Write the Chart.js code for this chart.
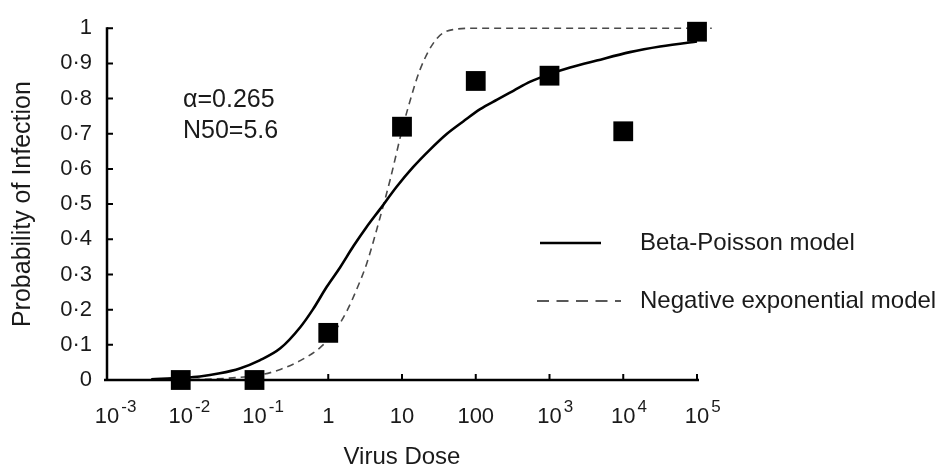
<!DOCTYPE html>
<html>
<head>
<meta charset="utf-8">
<script src="https://cdn.jsdelivr.net/npm/chart.js@4"></script>
<style>
  html, body { margin: 0; padding: 0; background: #ffffff; }
  canvas { display: block; }
</style>
</head>
<body>
<canvas id="c" width="952" height="470"></canvas>
<script>
// ---- data ----
const obsDose = [0.01, 0.1, 1, 10, 100, 1000, 10000, 100000];
const obsProb = [0, 0, 0.134, 0.72, 0.85, 0.865, 0.707, 0.99];

// Beta-Poisson curve (log10 dose, probability)
const bpLogDose = [-2.4, -2.0, -1.74, -1.47, -1.2, -0.93, -0.65, -0.38, -0.21, -0.02, 0.16, 0.34, 0.52, 0.7, 0.93, 1.15, 1.38, 1.61, 1.83, 2.06, 2.29, 2.51, 2.74, 3.01, 3.28, 3.64, 4.09, 4.5, 5.0, 5.2];
const bpProb    = [0.002, 0.006, 0.01, 0.019, 0.033, 0.056, 0.09, 0.15, 0.2, 0.265, 0.32, 0.38, 0.435, 0.485, 0.55, 0.605, 0.655, 0.7, 0.735, 0.77, 0.797, 0.822, 0.848, 0.87, 0.888, 0.908, 0.932, 0.948, 0.962, 0.967];

// Negative exponential curve (log10 dose, probability)
const neLogDose = [-2.0, -1.3, -0.93, -0.65, -0.38, -0.11, 0.06, 0.25, 0.4, 0.52, 0.7, 0.84, 1.0, 1.07, 1.25, 1.47, 1.69, 2.0, 5.2];
const neProb    = [0, 0.006, 0.014, 0.03, 0.055, 0.092, 0.13, 0.195, 0.265, 0.33, 0.46, 0.57, 0.71, 0.765, 0.885, 0.97, 0.996, 1.0, 1.0];

const xTickValues = [0.001, 0.01, 0.1, 1, 10, 100, 1000, 10000, 100000];
const xTickBase = ['10', '10', '10', '1', '10', '100', '10', '10', '10'];
const xTickSup  = ['-3', '-2', '-1', '', '', '', '3', '4', '5'];
const yTickLabels = ['0', '0\u00B71', '0\u00B72', '0\u00B73', '0\u00B74', '0\u00B75', '0\u00B76', '0\u00B77', '0\u00B78', '0\u00B79', '1'];

const legendLabels = ['Beta-Poisson model', 'Negative exponential model'];
const annotationLines = ['\u03B1=0.265', 'N50=5.6'];
const xTitle = 'Virus Dose';
const yTitle = 'Probability of Infection';

// ---- build points ----
const obsPts = obsDose.map((d, i) => ({ x: d, y: obsProb[i] }));
const bpPts = bpLogDose.map((e, i) => ({ x: Math.pow(10, e), y: bpProb[i] }));
const nePts = neLogDose.map((e, i) => ({ x: Math.pow(10, e), y: neProb[i] }));

const FONT = '"Liberation Sans", Arial, Helvetica, sans-serif';
const INK = '#1a1a1a';

const decorPlugin = {
  id: 'decor',
  afterDraw(chart) {
    const ctx = chart.ctx;
    const xs = chart.scales.x, ys = chart.scales.y;
    const y0 = ys.getPixelForValue(0);
    const y1 = ys.getPixelForValue(1);
    const xL = xs.getPixelForValue(xTickValues[0]);
    const xR = xs.getPixelForValue(xTickValues[xTickValues.length - 1]);
    ctx.save();
    ctx.strokeStyle = '#000';
    ctx.lineWidth = 2.5;
    ctx.lineCap = 'butt';
    // axes
    ctx.beginPath();
    ctx.moveTo(xL - 3, y0); ctx.lineTo(xR + 2, y0);
    ctx.moveTo(xL, y0 + 1); ctx.lineTo(xL, y1 - 1);
    ctx.stroke();
    // inward ticks
    ctx.lineWidth = 2;
    ctx.beginPath();
    xTickValues.forEach(v => {
      const px = xs.getPixelForValue(v);
      ctx.moveTo(px, y0); ctx.lineTo(px, y0 - 6);
    });
    for (let i = 1; i < yTickLabels.length; i++) {
      const py = ys.getPixelForValue(i / 10);
      ctx.moveTo(xL, py); ctx.lineTo(xL + 6, py);
    }
    ctx.stroke();

    // x tick labels with superscript exponents
    ctx.fillStyle = INK;
    ctx.textBaseline = 'alphabetic';
    const baseY = y0 + 43;
    xTickValues.forEach((v, i) => {
      const px = xs.getPixelForValue(v);
      ctx.font = '22px ' + FONT;
      ctx.textAlign = 'center';
      ctx.fillText(xTickBase[i], px, baseY);
      const w = ctx.measureText(xTickBase[i]).width;
      if (xTickSup[i]) {
        ctx.font = '17px ' + FONT;
        ctx.textAlign = 'left';
        ctx.fillText(xTickSup[i], px + w / 2 + 2, baseY - 11);
      }
    });
    ctx.restore();
  },
  afterDatasetsDraw(chart) {
    const ctx = chart.ctx;
    ctx.save();
    ctx.fillStyle = INK;
    ctx.textBaseline = 'middle';
    ctx.textAlign = 'left';
    // annotation
    ctx.font = '25px ' + FONT;
    ctx.fillText(annotationLines[0], 183, 100);
    ctx.fillText(annotationLines[1], 183, 131);
    // legend
    ctx.font = '24px ' + FONT;
    ctx.strokeStyle = '#000';
    ctx.lineWidth = 2.5;
    ctx.beginPath(); ctx.moveTo(540, 243); ctx.lineTo(601, 243); ctx.stroke();
    ctx.fillText(legendLabels[0], 640, 243);
    ctx.lineWidth = 1.6;
    ctx.strokeStyle = '#222';
    ctx.setLineDash([12, 7.5]);
    ctx.beginPath(); ctx.moveTo(537, 301); ctx.lineTo(621, 301); ctx.stroke();
    ctx.setLineDash([]);
    ctx.fillText(legendLabels[1], 640, 301);
    ctx.restore();
  }
};

new Chart(document.getElementById('c'), {
  type: 'scatter',
  data: {
    datasets: [
      {
        label: 'Observed',
        data: obsPts,
        pointStyle: 'rect',
        pointRadius: 14,
        pointHoverRadius: 14,
        backgroundColor: '#000',
        borderColor: '#000',
        borderWidth: 0,
        showLine: false,
        clip: false,
        order: 0
      },
      {
        label: legendLabels[0],
        data: bpPts,
        showLine: true,
        borderColor: '#000',
        borderWidth: 2.6,
        pointRadius: 0,
        cubicInterpolationMode: 'monotone',
        clip: false,
        order: 1
      },
      {
        label: legendLabels[1],
        data: nePts,
        showLine: true,
        borderColor: '#4a4a4a',
        borderWidth: 1.6,
        borderDash: [7, 5],
        pointRadius: 0,
        cubicInterpolationMode: 'monotone',
        clip: false,
        order: 2
      }
    ]
  },
  options: {
    responsive: false,
    animation: false,
    devicePixelRatio: 1,
    layout: { padding: { top: 25, right: 255, bottom: 0, left: 0 } },
    plugins: { legend: { display: false }, tooltip: { enabled: false } },
    scales: {
      x: {
        type: 'logarithmic',
        min: 0.001,
        max: 100000,
        afterBuildTicks: (scale) => { scale.ticks = xTickValues.map(v => ({ value: v })); },
        afterFit: (scale) => { scale.height = 90; },
        grid: { display: false, drawTicks: false },
        border: { display: false },
        ticks: { display: false },
        title: {
          display: true,
          text: xTitle,
          color: INK,
          font: { family: FONT, size: 24 },
          padding: { top: 0, bottom: -2 }
        }
      },
      y: {
        min: 0,
        max: 1,
        afterBuildTicks: (scale) => { scale.ticks = yTickLabels.map((t, i) => ({ value: i / 10 })); },
        afterFit: (scale) => { scale.width = 107; },
        grid: { display: false, drawTicks: false },
        border: { display: false },
        ticks: {
          padding: 15,
          color: INK,
          font: { family: FONT, size: 22 },
          callback: (v, i) => yTickLabels[i]
        },
        title: {
          display: true,
          text: yTitle,
          color: INK,
          font: { family: FONT, size: 25 },
          padding: { top: 8, bottom: 0 }
        }
      }
    }
  },
  plugins: [decorPlugin]
});
</script>
</body>
</html>
